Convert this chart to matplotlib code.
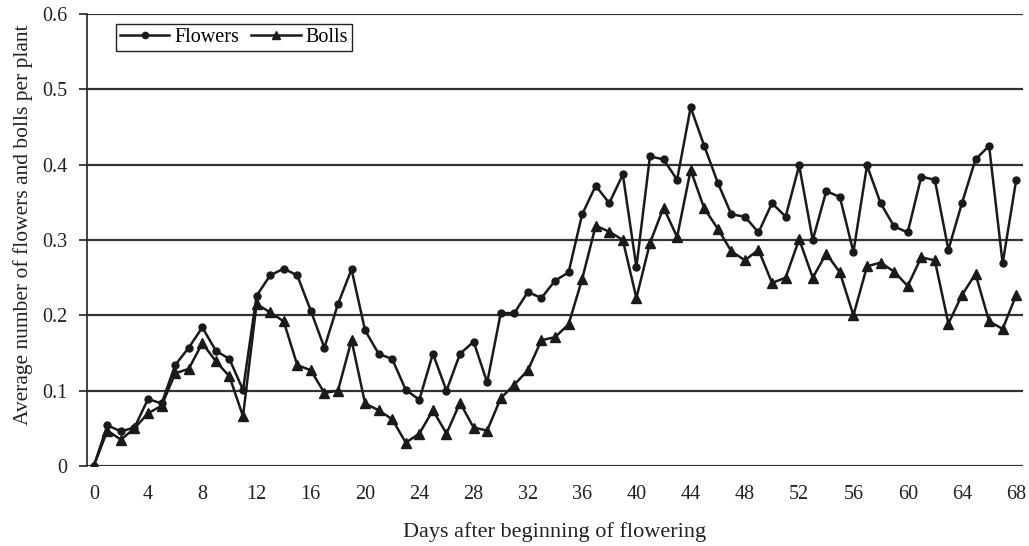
import numpy as np
import matplotlib
matplotlib.use("Agg")
import matplotlib.pyplot as plt

days = list(range(69))

flowers = [0.000, 0.054, 0.046, 0.051, 0.089, 0.083, 0.134, 0.157, 0.184, 0.153,
           0.142, 0.101, 0.226, 0.253, 0.262, 0.253, 0.206, 0.157, 0.215, 0.261,
           0.180, 0.149, 0.142, 0.101, 0.088, 0.149, 0.100, 0.149, 0.165, 0.111,
           0.203, 0.203, 0.231, 0.223, 0.246, 0.257, 0.334, 0.372, 0.349, 0.387,
           0.264, 0.411, 0.407, 0.380, 0.476, 0.425, 0.376, 0.334, 0.331, 0.310,
           0.349, 0.331, 0.399, 0.300, 0.365, 0.357, 0.284, 0.399, 0.349, 0.318,
           0.310, 0.384, 0.380, 0.287, 0.349, 0.407, 0.425, 0.269, 0.380]

bolls = [0.000, 0.047, 0.035, 0.050, 0.070, 0.080, 0.123, 0.129, 0.163, 0.139,
         0.119, 0.066, 0.215, 0.204, 0.192, 0.134, 0.127, 0.097, 0.100, 0.167,
         0.083, 0.074, 0.062, 0.031, 0.043, 0.074, 0.043, 0.084, 0.051, 0.047,
         0.090, 0.108, 0.127, 0.167, 0.171, 0.188, 0.248, 0.319, 0.311, 0.300,
         0.223, 0.296, 0.343, 0.304, 0.393, 0.342, 0.315, 0.285, 0.273, 0.287,
         0.243, 0.250, 0.301, 0.250, 0.282, 0.257, 0.200, 0.265, 0.270, 0.258,
         0.239, 0.277, 0.273, 0.189, 0.227, 0.255, 0.192, 0.182, 0.227]

x_ticks = list(range(0, 69, 4))
y_ticks = [0, 0.1, 0.2, 0.3, 0.4, 0.5, 0.6]
y_labels = ["0", "0.1", "0.2", "0.3", "0.4", "0.5", "0.6"]

plt.rcParams['font.family'] = ['Liberation Serif', 'DejaVu Serif']

fig = plt.figure(figsize=(10.29, 5.46), dpi=100)
ax = fig.add_axes([87 / 1029, 1 - 466 / 546, (1023 - 87) / 1029, (466 - 14) / 546])

# horizontal grid lines
for yv in y_ticks:
    ax.axhline(yv, color='#333333', lw=1.6, zorder=1)

ax.plot(days, flowers, color='#1a1a1a', lw=1.8, marker='o', ms=5,
        label='Flowers', zorder=3)
ax.plot(days, bolls, color='#1a1a1a', lw=1.8, marker='^', ms=7,
        label='Bolls', zorder=3)

ax.set_xlim(-0.5, 68.5)
ax.set_ylim(0, 0.6)
ax.set_xticks(x_ticks)
ax.set_yticks(y_ticks)
ax.set_yticklabels(y_labels)

for s in ['top', 'right', 'bottom']:
    ax.spines[s].set_visible(False)
ax.spines['left'].set_linewidth(1.2)
ax.spines['left'].set_color('#222222')

ax.tick_params(axis='x', length=0, pad=14, labelsize=14.5, colors='#222222')
ax.tick_params(axis='y', length=6, width=1.2, direction='out', pad=8,
               labelsize=14.5, colors='#222222')

ax.set_xlabel('Days after beginning of flowering', fontsize=16,
              color='#222222', labelpad=13)
ax.set_ylabel('Average number of flowers and bolls per plant', fontsize=15.5,
              color='#222222')
ax.yaxis.set_label_coords(-0.058, 0.533)

leg = ax.legend(loc='upper left', ncol=2, frameon=True, fancybox=False,
                fontsize=14.5, bbox_to_anchor=(29 / 936, 1 - 10 / 452),
                handlelength=2.45, columnspacing=0.6, handletextpad=0.25,
                borderpad=0.2, borderaxespad=0)
leg.get_frame().set_edgecolor('#222222')
leg.get_frame().set_linewidth(1.0)
leg.get_frame().set_alpha(1)
hs = leg.legend_handles
hs[0].set_markersize(4.5)
hs[1].set_markersize(6)

fig.savefig('out.png', dpi=100)
